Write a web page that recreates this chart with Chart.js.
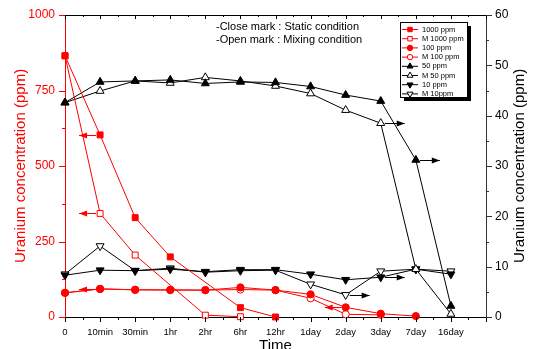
<!DOCTYPE html>
<html>
<head>
<meta charset="utf-8">
<script src="https://cdn.jsdelivr.net/npm/chart.js@4.4.1/dist/chart.umd.min.js"></script>
<style>
  body { margin: 0; background: #fff; }
</style>
</head>
<body>
<canvas id="chart" width="536" height="349"></canvas>
<script>
// time points (x axis)
const labels = ['0', '10min', '30min', '1hr', '2hr', '6hr', '12hr', '1day', '2day', '3day', '7day', '16day']

// left axis (ppm, 0-1000)
const u1000 = [865, 603, 329, 199, null, 31, 0, null, null, null, null, null]
const uM1000 = [865, 343, 205, null, 6, 1, null, null, null, null, null, null]
const u100 = [80, 93, 90, 90, 89, 98, 89, 75, 32, 11, 3, null]
const uM100 = [80, 93, 90, 89, 89, 91, 89, 62, 9, 7, null, null]

// right axis (ppm, 0-60)
const u50 = [42.6, 46.7, 46.9, 47.1, 46.4, 46.7, 46.6, 45.8, 44.1, 42.9, 31.2, 2.2]
const uM50 = [42.6, 44.9, 46.9, 46.5, 47.6, 46.9, 45.9, 44.4, 41.1, 38.5, 9.5, 0.6]
const u10 = [8.3, 9.3, 9.2, 9.5, 9.0, 9.4, 9.4, 8.5, 7.4, 7.9, 9.5, 8.5]
const uM10 = [8.5, 14.1, 9.2, 9.7, 8.9, 9.2, 9.3, 6.5, 4.4, 9.1, 9.5, 9.1]

// arrows showing which axis a curve belongs to: [time index, value]
const arrowsLeft = [[1, 603], [1, 343], [1, 93], [8, 32]]
const arrowsRight = [[9, 38.5], [10, 31.2], [8, 4.4], [9, 7.9]]

const notes = ['-Close mark : Static condition', '-Open mark : Mixing condition']
const yTitle = 'Uranium concentration (ppm)'

const RED = '#ff0000'
const BLACK = '#000000'
const FONT = "'Liberation Sans', Arial, sans-serif"

function pts(arr) {
  return arr.map((v, i) => ({x: i, y: v}))
}

function ds(label, arr, axis, color, style, open, radius, rot) {
  return {
    label: label,
    data: pts(arr),
    yAxisID: axis,
    borderColor: color,
    backgroundColor: open ? '#ffffff' : color,
    pointBackgroundColor: open ? '#ffffff' : color,
    pointBorderColor: color,
    pointStyle: style,
    pointRadius: radius,
    pointRotation: rot || 0,
    pointBorderWidth: 1,
    borderWidth: 1,
    spanGaps: true,
    tension: 0,
    clip: false
  }
}

const datasets = [
  ds('1000 ppm', u1000, 'y', RED, 'rect', false, 4.2),
  ds('M 1000 ppm', uM1000, 'y', RED, 'rect', true, 4.2),
  ds('100 ppm', u100, 'y', RED, 'circle', false, 3.6),
  ds('M 100 ppm', uM100, 'y', RED, 'circle', true, 3.6),
  ds('50 ppm', u50, 'y1', BLACK, 'triangle', false, 4.6),
  ds('M 50 ppm', uM50, 'y1', BLACK, 'triangle', true, 4.6),
  ds('10 ppm', u10, 'y1', BLACK, 'triangle', false, 4.6, 180),
  ds('M 10ppm', uM10, 'y1', BLACK, 'triangle', true, 4.6, 180)
]

function drawArrow(ctx, x0, y, len, dir, color) {
  const x1 = x0 + dir * len
  ctx.strokeStyle = color
  ctx.fillStyle = color
  ctx.lineWidth = 1
  ctx.beginPath()
  ctx.moveTo(x0, y)
  ctx.lineTo(x1, y)
  ctx.stroke()
  ctx.beginPath()
  ctx.moveTo(x1, y)
  ctx.lineTo(x1 - dir * 8, y - 3)
  ctx.lineTo(x1 - dir * 8, y + 3)
  ctx.closePath()
  ctx.fill()
}

const extras = {
  id: 'extras',
  afterDraw(chart) {
    const ctx = chart.ctx
    const area = chart.chartArea
    const sx = chart.scales.x
    const sy = chart.scales.y
    const sy1 = chart.scales.y1
    ctx.save()

    // top frame line
    ctx.strokeStyle = BLACK
    ctx.lineWidth = 1
    ctx.beginPath()
    ctx.moveTo(area.left, area.top + 0.5)
    ctx.lineTo(area.right, area.top + 0.5)
    ctx.stroke()

    // x ticks (bottom outward, top inward)
    sx.ticks.forEach(t => {
      const px = Math.round(sx.getPixelForValue(t.value)) + 0.5
      const major = Number.isInteger(t.value)
      ctx.beginPath()
      ctx.moveTo(px, area.bottom)
      ctx.lineTo(px, area.bottom + (major ? 5 : 3))
      ctx.moveTo(px, area.top)
      ctx.lineTo(px, area.top + (major ? 4 : 2))
      ctx.stroke()
    })

    // left ticks
    ctx.strokeStyle = RED
    sy.ticks.forEach(t => {
      const py = Math.round(sy.getPixelForValue(t.value)) + 0.5
      const major = t.value % 250 === 0
      ctx.beginPath()
      ctx.moveTo(area.left, py)
      ctx.lineTo(area.left - (major ? 6 : 3), py)
      ctx.stroke()
    })

    // right ticks
    ctx.strokeStyle = '#333333'
    sy1.ticks.forEach(t => {
      const py = Math.round(sy1.getPixelForValue(t.value)) + 0.5
      const major = t.value % 10 === 0
      ctx.beginPath()
      ctx.moveTo(area.right, py)
      ctx.lineTo(area.right + (major ? 6 : 3), py)
      ctx.stroke()
    })

    // right axis title, reads bottom to top like the left one
    ctx.save()
    ctx.translate(520, (area.top + area.bottom) / 2)
    ctx.rotate(-Math.PI / 2)
    ctx.fillStyle = BLACK
    ctx.font = '15px ' + FONT
    ctx.textAlign = 'center'
    ctx.textBaseline = 'middle'
    ctx.fillText(yTitle, 0, 0)
    ctx.restore()

    // axis arrows
    arrowsLeft.forEach(a => {
      const px = sx.getPixelForValue(a[0])
      const py = Math.round(sy.getPixelForValue(a[1])) + 0.5
      drawArrow(ctx, px - 4, py, 17, -1, RED)
    })
    arrowsRight.forEach(a => {
      const px = sx.getPixelForValue(a[0])
      const py = Math.round(sy1.getPixelForValue(a[1])) + 0.5
      drawArrow(ctx, px + 4, py, 20, 1, BLACK)
    })

    // notes
    ctx.fillStyle = BLACK
    ctx.font = '11px ' + FONT
    ctx.textBaseline = 'middle'
    ctx.textAlign = 'left'
    notes.forEach((s, i) => ctx.fillText(s, 216, 27 + i * 13))

    // legend box with shadow
    const bx = 400, by = 22, bw = 67, bh = 75
    ctx.fillStyle = BLACK
    ctx.fillRect(bx + 4, by + 4, bw, bh)
    ctx.fillStyle = '#ffffff'
    ctx.fillRect(bx, by, bw, bh)
    ctx.strokeStyle = BLACK
    ctx.strokeRect(bx + 0.5, by + 0.5, bw, bh)
    ctx.font = '7.5px ' + FONT
    chart.data.datasets.forEach((d, i) => {
      const y = by + 7.5 + i * 9.2
      ctx.strokeStyle = d.borderColor
      ctx.beginPath()
      ctx.moveTo(bx + 2, y)
      ctx.lineTo(bx + 18, y)
      ctx.stroke()
      ctx.fillStyle = d.pointBackgroundColor
      Chart.helpers.drawPoint(ctx, {
        pointStyle: d.pointStyle,
        rotation: d.pointRotation,
        radius: d.pointRadius * 0.75,
        borderWidth: 1
      }, bx + 10, y)
      ctx.fillStyle = BLACK
      ctx.fillText(d.label, bx + 22, y)
    })
    ctx.restore()
  }
}

new Chart(document.getElementById('chart'), {
  type: 'line',
  data: { datasets: datasets },
  options: {
    responsive: false,
    animation: false,
    layout: { padding: { top: 15, left: 0, right: 0, bottom: 0 } },
    plugins: {
      legend: { display: false },
      tooltip: { enabled: false }
    },
    scales: {
      x: {
        type: 'linear',
        position: 'bottom',
        min: 0,
        max: 12,
        afterFit: s => { s.height = 32 },
        ticks: {
          stepSize: 0.5,
          autoSkip: false,
          maxRotation: 0,
          padding: 5,
          color: BLACK,
          font: { family: FONT, size: 9.5 },
          callback: v => (Number.isInteger(v) && v < labels.length) ? labels[v] : ''
        },
        grid: { drawOnChartArea: false, tickLength: 5, tickColor: 'rgba(0,0,0,0)' },
        border: { color: BLACK, width: 1 },
        title: {
          display: true,
          text: 'Time',
          color: BLACK,
          font: { family: FONT, size: 15 },
          padding: { top: 0, bottom: -6 }
        }
      },
      y: {
        position: 'left',
        min: 0,
        max: 1000,
        afterFit: s => { s.width = 65 },
        ticks: {
          stepSize: 125,
          padding: 4,
          color: RED,
          font: { family: FONT, size: 12 },
          callback: v => v % 250 === 0 ? v : ''
        },
        grid: { drawOnChartArea: false, tickLength: 6, tickColor: 'rgba(0,0,0,0)' },
        border: { color: RED, width: 1 },
        title: {
          display: true,
          text: yTitle,
          color: RED,
          font: { family: FONT, size: 15 },
          padding: { top: 12, bottom: 0 }
        }
      },
      y1: {
        position: 'right',
        min: 0,
        max: 60,
        afterFit: s => { s.width = 50 },
        ticks: {
          stepSize: 5,
          padding: 4,
          color: BLACK,
          font: { family: FONT, size: 12 },
          callback: v => v % 10 === 0 ? v : ''
        },
        grid: { drawOnChartArea: false, tickLength: 5, tickColor: 'rgba(0,0,0,0)' },
        border: { color: '#333333', width: 1 }
      }
    }
  },
  plugins: [extras]
})
</script>
</body>
</html>
